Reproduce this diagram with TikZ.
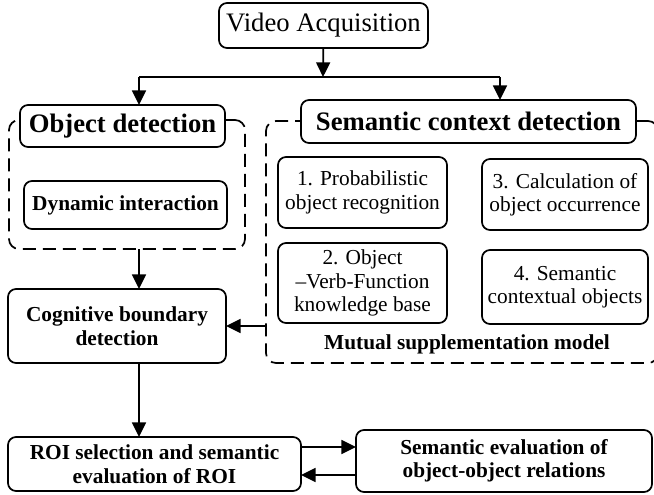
\documentclass[tikz,border=0pt]{standalone}
\usepackage{fontspec}
\setmainfont{Liberation Serif}
\usetikzlibrary{arrows.meta}

\tikzset{every picture/.style={line width=1.3pt}}
\tikzset{
  blk/.style={draw, rounded corners=6pt, fill=white, align=center, inner sep=0pt, outer sep=0pt, font=\fontsize{16}{17.6}\selectfont},
  bblk/.style={blk, font=\fontsize{16}{17.6}\selectfont\bfseries},
  ttl/.style={blk, font=\fontsize{20}{22}\selectfont\bfseries},
  grp/.style={draw, dash pattern=on 9.75pt off 5.25pt, rounded corners=7.5pt, inner sep=0pt, outer sep=0pt},
  arr/.style={-{Triangle[length=11pt,width=10.5pt]}},
}

\begin{document}
\begin{tikzpicture}[x=0.75pt,y=0.75pt,yscale=-1,xscale=1]
		\useasboundingbox (0,0) rectangle (654,494);
		
		%Dashed groups
		\draw (127,184.5) node (objgrp) [grp, minimum width=177pt, minimum height=96.75pt] {};
		\draw (462,242) node (semgrp) [grp, minimum width=294pt, minimum height=181.5pt] {};
		
		%Top
		\draw (323.5,25.5) node (video) [blk, minimum width=156.75pt, minimum height=33.75pt, font=\fontsize{20}{22}\selectfont] {Video Acquisition};
		\draw (122.5,126) node (objtitle) [ttl, minimum width=153.75pt, minimum height=31.5pt] {Object detection};
		\draw (468.5,121.5) node (semtitle) [ttl, minimum width=251.25pt, minimum height=32.25pt] {Semantic context detection};
		
		%Inside the groups
		\draw (125.5,205) node (dyn) [bblk, minimum width=152.25pt, minimum height=36pt] {Dynamic interaction};
		\draw (362.5,192.5) node (prob) [blk, minimum width=126.75pt, minimum height=53.25pt] {1. Probabilistic\\object recognition};
		\draw (362.5,283) node (ovf) [blk, minimum width=126.75pt, minimum height=60pt] {2. Object\\–Verb-Function\\knowledge base};
		\draw (565,194.5) node (calc) [blk, minimum width=124.5pt, minimum height=53.25pt] {3. Calculation of\\object occurrence};
		\draw (565,287) node (ctx) [blk, minimum width=124.5pt, minimum height=55.5pt] {4. Semantic\\contextual objects};
		\draw (467,344) node (mutual) [font=\fontsize{16}{17.6}\selectfont\bfseries] {Mutual supplementation model};
		
		%Lower blocks
		\draw (117,326) node (cog) [bblk, minimum width=163.5pt, minimum height=55.5pt] {Cognitive boundary\\detection};
		\draw (154.5,464) node (roi) [bblk, minimum width=219.75pt, minimum height=40.5pt] {ROI selection and semantic\\evaluation of ROI};
		\draw (504,461) node (sev) [bblk, minimum width=222pt, minimum height=46.5pt] {Semantic evaluation of\\object-object relations};
		
		%Arrows
		\coordinate (fork) at (323,77);
		\coordinate (forkL) at (139,77);
		\coordinate (forkR) at (500,77);
		\draw (forkL) -- (forkR);
		\draw [arr] (video) -- (fork);
		\draw [arr] (forkL) -- (forkL |- objtitle.north);
		\draw [arr] (forkR) -- (forkR |- semtitle.north);
		\draw [arr] (objgrp.south -| forkL) -- (cog.north -| forkL);
		\draw [arr] (semgrp.west |- cog) -- (cog.east);
		\draw [arr] (cog.south -| forkL) -- (roi.north -| forkL);
		
		%yscale=-1 also flips yshift
		\coordinate (rtop) at ([yshift=-12.75pt]roi.east);
		\coordinate (rbot) at ([yshift=8.25pt]roi.east);
		\draw [arr] (rtop) -- (rtop -| sev.west);
		\draw [arr] (rbot -| sev.west) -- (rbot);
		
	\end{tikzpicture}
\end{document}
